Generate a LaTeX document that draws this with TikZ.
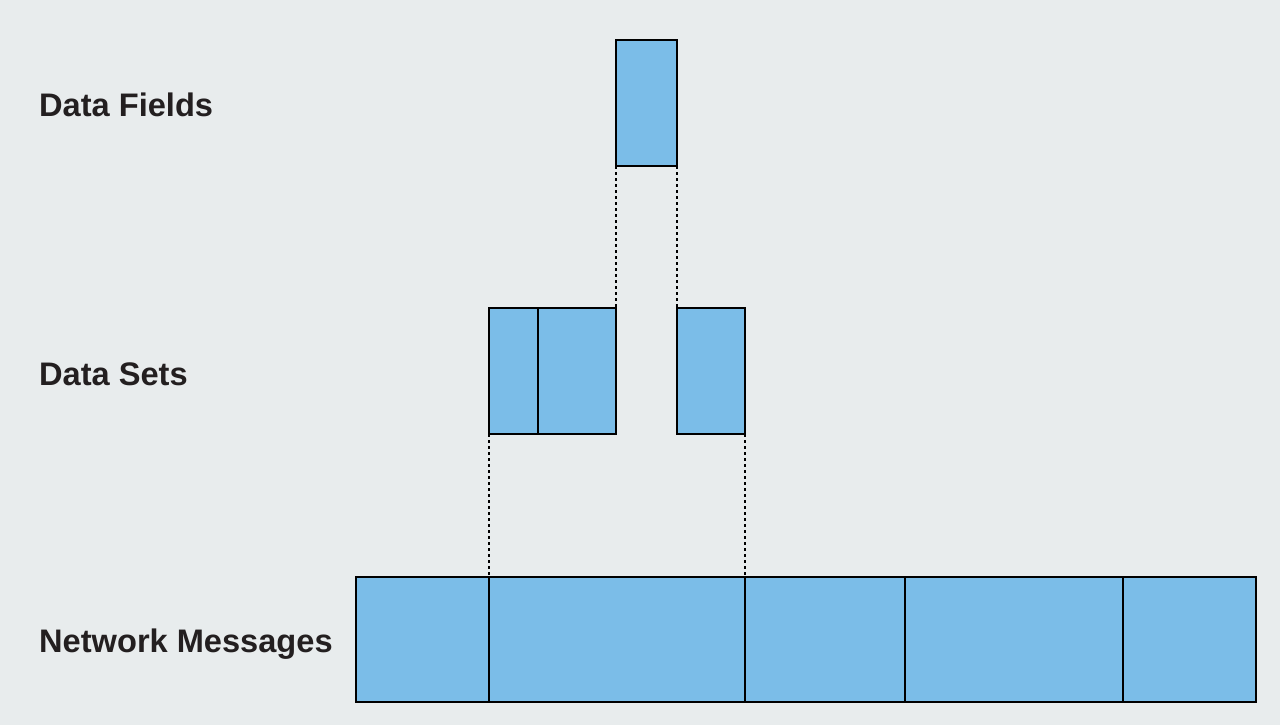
\documentclass[tikz,border=0pt]{standalone}
\usepackage{fontspec}
\setmainfont{Liberation Sans}
\definecolor{bgc}{HTML}{E8ECED}
\definecolor{boxc}{HTML}{7BBDE8}
\definecolor{txtc}{HTML}{231F20}
\begin{document}
\begin{tikzpicture}[x=1pt,y=-1pt,
  blk/.style={draw=black,fill=boxc,line width=2.8pt,inner sep=0pt,outer sep=0pt,anchor=center},
  lbl/.style={anchor=base west,inner sep=0pt,text=txtc,font=\fontsize{32.6}{36}\selectfont\bfseries},
  dotl/.style={line width=2.4pt,dash pattern=on 3pt off 3pt}]
\fill[bgc] (0,0) rectangle (1280,725);
\useasboundingbox (0,0) rectangle (1280,725);
% Data Fields
\node[blk,minimum width=61pt,minimum height=126pt] (df) at (646.5,103) {};
% Data Sets
\node[blk,minimum width=49pt,minimum height=126pt] (dsa) at (513.5,371) {};
\node[blk,minimum width=78pt,minimum height=126pt] (dsb) at (577,371) {};
\node[blk,minimum width=68pt,minimum height=126pt] (dsc) at (711,371) {};
% Network Messages
\node[blk,minimum width=133pt,minimum height=125pt] (nm1) at (422.5,639.5) {};
\node[blk,minimum width=256pt,minimum height=125pt] (nm2) at (617,639.5) {};
\node[blk,minimum width=160pt,minimum height=125pt] (nm3) at (825,639.5) {};
\node[blk,minimum width=218pt,minimum height=125pt] (nm4) at (1014,639.5) {};
\node[blk,minimum width=133pt,minimum height=125pt] (nm5) at (1189.5,639.5) {};
% dotted connectors
\draw[dotl] (df.south west) -- (dsb.north east);
\draw[dotl] (df.south east) -- (dsc.north west);
\draw[dotl] (dsa.south west) -- (nm2.north west);
\draw[dotl] (dsc.south east) -- (nm2.north east);
% labels
\node[lbl] (l1) at (39,116) {Data Fields};
\node[lbl] (l2) at (39,385) {Data Sets};
\node[lbl] (l3) at (39,652) {Network Messages};
\end{tikzpicture}
\end{document}
